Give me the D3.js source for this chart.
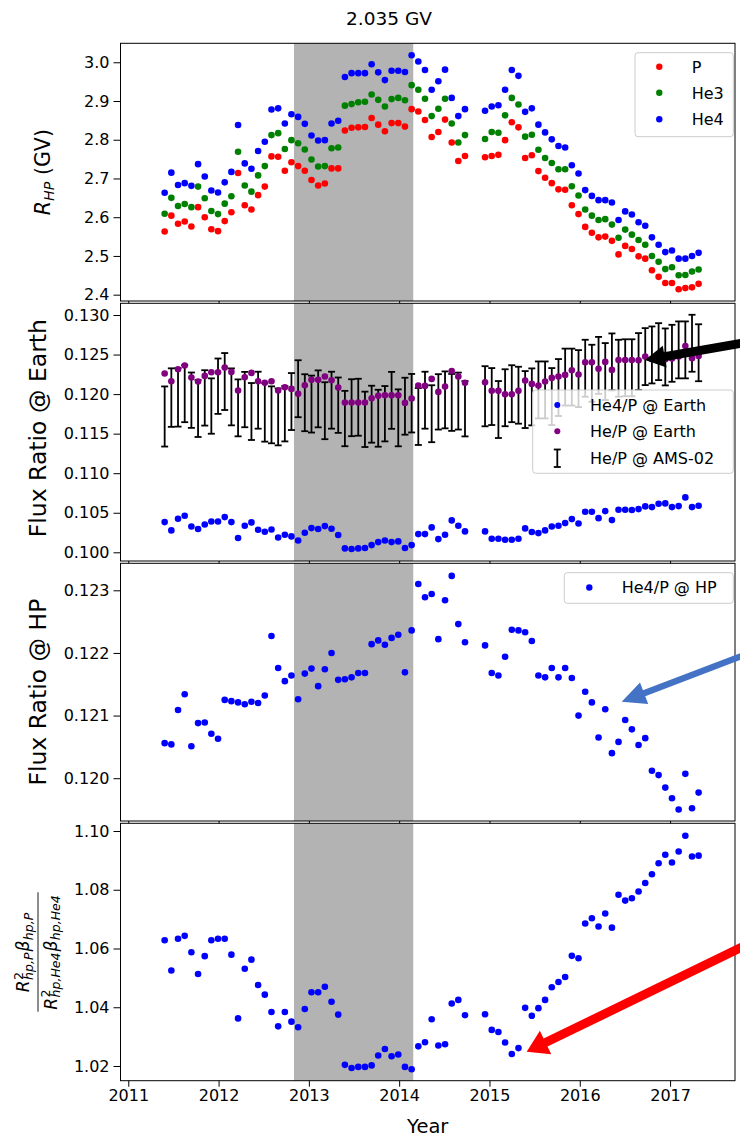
<!DOCTYPE html>
<html><head><meta charset="utf-8">
<script src="https://cdn.jsdelivr.net/npm/d3@7"></script>
<style>body{margin:0;background:#fff} svg{display:block;font-family:'DejaVu Sans',sans-serif}</style>
</head><body><svg id="c" width="740" height="1140"></svg>
<script>
// ---------------- DATA ----------------
const years = [2011.403,2011.477,2011.551,2011.625,2011.699,2011.773,2011.847,2011.920,2011.994,2012.068,
2012.142,2012.216,2012.290,2012.364,2012.438,2012.512,2012.586,2012.660,2012.734,2012.807,
2012.881,2012.955,2013.029,2013.103,2013.177,2013.251,2013.325,2013.399,2013.473,2013.547,
2013.621,2013.695,2013.768,2013.842,2013.916,2013.990,2014.064,2014.138,2014.212,2014.286,
2014.360,2014.434,2014.508,2014.582,2014.655,2014.729,
2014.951,2015.025,2015.099,2015.173,2015.247,2015.321,2015.395,2015.469,2015.542,2015.616,
2015.690,2015.764,2015.838,2015.912,2015.986,2016.060,2016.134,2016.208,2016.282,2016.356,
2016.429,2016.503,2016.577,2016.651,2016.725,2016.799,2016.873,2016.947,2017.021,2017.095,
2017.169,2017.243,2017.316];

const rhpP = [2.563,2.604,2.583,2.589,2.576,2.626,2.600,2.569,2.564,2.590,
2.613,2.714,2.631,2.620,2.657,2.679,2.757,2.756,2.720,2.742,
2.732,2.720,2.696,2.682,2.687,2.726,2.726,2.824,2.831,2.832,
2.833,2.856,2.839,2.822,2.843,2.843,2.834,2.879,2.873,2.851,
2.807,2.820,2.852,2.793,2.745,2.758,
2.755,2.758,2.761,2.799,2.845,2.832,2.753,2.760,2.719,2.702,
2.688,2.672,2.671,2.631,2.608,2.575,2.560,2.548,2.550,2.539,
2.504,2.526,2.518,2.499,2.493,2.463,2.446,2.430,2.430,2.414,
2.417,2.419,2.428];

const rhpHe3 = [2.609,2.650,2.629,2.634,2.626,2.679,2.649,2.616,2.608,2.635,
2.654,2.769,2.682,2.666,2.708,2.732,2.812,2.817,2.776,2.799,
2.791,2.775,2.749,2.731,2.732,2.778,2.780,2.888,2.892,2.897,
2.898,2.917,2.903,2.886,2.905,2.908,2.902,2.941,2.929,2.906,
2.861,2.880,2.906,2.842,2.793,2.812,
2.802,2.820,2.818,2.863,2.908,2.891,2.808,2.813,2.774,2.753,
2.740,2.724,2.724,2.680,2.656,2.620,2.604,2.593,2.595,2.581,
2.547,2.568,2.555,2.541,2.529,2.500,2.485,2.466,2.471,2.450,
2.451,2.460,2.465];

const rhpHe4 = [2.663,2.715,2.683,2.688,2.681,2.737,2.705,2.669,2.664,2.690,
2.717,2.838,2.739,2.725,2.771,2.795,2.878,2.881,2.842,2.866,
2.859,2.841,2.811,2.798,2.799,2.842,2.849,2.962,2.972,2.972,
2.972,2.995,2.974,2.954,2.978,2.978,2.975,3.018,3.002,2.980,
2.929,2.951,2.981,2.908,2.861,2.879,
2.875,2.886,2.889,2.929,2.980,2.965,2.872,2.881,2.839,2.819,
2.801,2.784,2.780,2.734,2.713,2.670,2.655,2.644,2.644,2.638,
2.593,2.615,2.607,2.587,2.578,2.548,2.529,2.510,2.514,2.493,
2.493,2.500,2.508];

const he4pEarth = [0.10382,0.10277,0.10424,0.10462,0.10327,0.10294,0.10352,0.10390,0.10390,0.10445,
0.10382,0.10180,0.10336,0.10378,0.10285,0.10260,0.10289,0.10188,0.10222,0.10201,
0.10150,0.10247,0.10306,0.10294,0.10331,0.10298,0.10218,0.10049,0.10041,0.10049,
0.10054,0.10091,0.10129,0.10150,0.10129,0.10138,0.10054,0.10091,0.10230,0.10230,
0.10315,0.10167,0.10222,0.10403,0.10336,0.10264,
0.10264,0.10172,0.10172,0.10159,0.10159,0.10172,0.10302,0.10256,0.10243,0.10277,
0.10327,0.10336,0.10369,0.10420,0.10365,0.10512,0.10512,0.10432,0.10521,0.10407,
0.10538,0.10538,0.10534,0.10546,0.10580,0.10571,0.10614,0.10618,0.10571,0.10584,
0.10694,0.10571,0.10588];

const hepEarth = [0.12260,0.12163,0.12314,0.12361,0.12209,0.12159,0.12230,0.12276,0.12276,0.12335,
0.12281,0.12045,0.12213,0.12268,0.12163,0.12142,0.12163,0.12045,0.12087,0.12066,
0.12003,0.12112,0.12180,0.12180,0.12222,0.12175,0.12083,0.11893,0.11893,0.11893,
0.11893,0.11948,0.11978,0.11986,0.11986,0.11986,0.11889,0.11944,0.12108,0.12104,
0.12192,0.12028,0.12095,0.12293,0.12222,0.12142,
0.12150,0.12041,0.12041,0.11999,0.11999,0.12041,0.12171,0.12129,0.12108,0.12159,
0.12205,0.12222,0.12243,0.12302,0.12247,0.12403,0.12403,0.12319,0.12407,0.12306,
0.12432,0.12432,0.12432,0.12428,0.12474,0.12441,0.12441,0.12441,0.12449,0.12474,
0.12609,0.12453,0.12483];

const amsHeP = [0.11717,0.11956,0.11959,0.12005,0.11923,0.11818,0.11952,0.11849,0.12100,0.12159,
0.11965,0.11826,0.11931,0.11780,0.11923,0.11769,0.11738,0.11712,0.11752,0.11906,
0.12068,0.11891,0.11874,0.11940,0.11790,0.11923,0.11860,0.11691,0.11828,0.11834,
0.11681,0.11746,0.11695,0.11752,0.11921,0.11700,0.11847,0.11885,0.11717,0.11923,
0.11752,0.11902,0.11927,0.11895,0.11912,0.11815,
0.11973,0.11969,0.11805,0.11954,0.12005,0.11986,0.11931,0.11965,0.12053,0.12053,
0.11969,0.12083,0.12215,0.12215,0.12196,0.12327,0.12264,0.12363,0.12285,0.12407,
0.12327,0.12333,0.12333,0.12411,0.12474,0.12495,0.12537,0.12470,0.12516,0.12559,
0.12559,0.12643,0.12523];

const amsErr = [0.0038,0.0037,0.0037,0.0036,0.0035,0.0036,0.0035,0.0035,0.0035,0.0036,
0.0036,0.0036,0.0035,0.0036,0.0036,0.0037,0.0036,0.0036,0.0035,0.0036,
0.0036,0.0036,0.0036,0.0036,0.0036,0.0036,0.0035,0.0035,0.0036,0.0036,
0.0035,0.0036,0.0036,0.0035,0.0036,0.0036,0.0036,0.0037,0.0036,0.0036,
0.0036,0.0035,0.0036,0.0036,0.0036,0.0035,
0.0038,0.0036,0.0036,0.0036,0.0036,0.0036,0.0036,0.0036,0.0036,0.0036,
0.0036,0.0036,0.0036,0.0036,0.0036,0.0036,0.0036,0.0036,0.0036,0.0036,
0.0036,0.0036,0.0036,0.0036,0.0036,0.0036,0.0036,0.0036,0.0036,0.0036,
0.0036,0.0036,0.0036];

const he4pHP = [0.12056,0.12054,0.12109,0.12134,0.12051,0.12088,0.12089,0.12071,0.12063,0.12125,
0.12123,0.12121,0.12118,0.12122,0.12120,0.12132,0.12227,0.12176,0.12155,0.12164,
0.12126,0.12167,0.12175,0.12147,0.12174,0.12200,0.12157,0.12158,0.12161,0.12168,
0.12168,0.12214,0.12220,0.12213,0.12224,0.12229,0.12169,0.12236,0.12310,0.12289,
0.12294,0.12222,0.12284,0.12323,0.12246,0.12217,
0.12212,0.12168,0.12164,0.12194,0.12237,0.12236,0.12233,0.12219,0.12164,0.12161,
0.12176,0.12161,0.12176,0.12160,0.12100,0.12138,0.12121,0.12065,0.12110,0.12040,
0.12058,0.12093,0.12078,0.12053,0.12064,0.12012,0.12005,0.11985,0.11968,0.11950,
0.12007,0.11952,0.11977];

const rigBetaRatio = [1.0628,1.0525,1.0633,1.0643,1.0587,1.0513,1.0574,1.0628,1.0633,1.0633,
1.0579,1.0362,1.0531,1.0562,1.0476,1.0443,1.0384,1.0335,1.0384,1.0351,
1.0332,1.0394,1.0451,1.0451,1.0470,1.0419,1.0375,1.0204,1.0193,1.0197,
1.0197,1.0202,1.0236,1.0258,1.0233,1.0239,1.0197,1.0189,1.0267,1.0281,
1.0359,1.0270,1.0274,1.0413,1.0425,1.0373,
1.0376,1.0323,1.0316,1.0280,1.0241,1.0261,1.0398,1.0371,1.0397,1.0425,
1.0468,1.0486,1.0503,1.0575,1.0567,1.0685,1.0703,1.0675,1.0719,1.0671,
1.0783,1.0763,1.0771,1.0794,1.0823,1.0853,1.0890,1.0919,1.0893,1.0930,
1.0984,1.0913,1.0916];

const xTicks = [2011,2012,2013,2014,2015,2016,2017];
const yTicksR = [2.4,2.5,2.6,2.7,2.8,2.9,3.0];
const yTicksEarth = [0.100,0.105,0.110,0.115,0.120,0.125,0.130];
const yTicksHP = [0.120,0.121,0.122,0.123];
const yTicksBeta = [1.02,1.04,1.06,1.08,1.10];
const reversalSpan = [2012.835, 2014.156];
const arrowBlack = {tip:[2016.722,0.12431], tail:[2017.993,0.12684]};
const arrowBlue  = {tip:[2016.464,0.121221], tail:[2017.993,0.122061]};
const arrowRed   = {tip:[2015.412,1.02486], tail:[2017.993,1.0634]};

// ---------------- LAYOUT ----------------
const svg = d3.select('#c');
const X0 = 120.5, X1 = 735;
const x = d3.scaleLinear().domain([2010.914, 2017.719]).range([X0, X1]);
const panels = [
  {top:43.3, bottom:301,  dom:[2.3837,3.049],   ticks:yTicksR,     fmt:d3.format('.1f')},
  {top:303.3,bottom:561,  dom:[0.09890,0.13148],ticks:yTicksEarth, fmt:d3.format('.3f')},
  {top:563.3,bottom:821,  dom:[0.119317,0.123431],ticks:yTicksHP,  fmt:d3.format('.3f')},
  {top:823.3,bottom:1080.7,dom:[1.015,1.10262], ticks:yTicksBeta,  fmt:d3.format('.2f')}
];
const R = 3.3;
const COL = {red:'#ff0000', green:'#008000', blue:'#0000ff', purple:'#800080'};

function styleAxis(g){
  g.attr('font-size',null).attr('font-family',null);
  g.select('.domain').remove();
  g.selectAll('line').attr('stroke','#000').attr('stroke-width',1);
  g.selectAll('text').attr('font-size',16).attr('fill','#000');
}

function drawPanel(i, drawData, legend){
  const p = panels[i];
  const y = d3.scaleLinear().domain(p.dom).range([p.bottom, p.top]);
  const g = svg.append('g');
  g.append('rect').attr('x',X0).attr('y',p.top).attr('width',X1-X0).attr('height',p.bottom-p.top).attr('fill','#fff');
  g.append('rect').attr('x',x(reversalSpan[0])).attr('y',p.top)
    .attr('width',x(reversalSpan[1])-x(reversalSpan[0])).attr('height',p.bottom-p.top)
    .attr('fill','#808080').attr('fill-opacity',0.6);
  drawData(g, y);
  if (legend) legend(g);
  const ax = g.append('g').attr('transform',`translate(${X0},0)`)
    .call(d3.axisLeft(y).tickValues(p.ticks).tickFormat(p.fmt).tickSize(7).tickPadding(4));
  styleAxis(ax);
  const bx = g.append('g').attr('transform',`translate(0,${p.bottom})`)
    .call(d3.axisBottom(x).tickValues(xTicks).tickSize(6).tickPadding(3)
      .tickFormat(i===3 ? d3.format('d') : ''));
  styleAxis(bx);
  g.append('rect').attr('x',X0).attr('y',p.top).attr('width',X1-X0).attr('height',p.bottom-p.top)
    .attr('fill','none').attr('stroke','#000').attr('stroke-width',1);
  return y;
}

function dots(g, y, vals, color){
  g.append('g').selectAll('circle').data(vals).join('circle')
    .attr('cx',(d,k)=>x(years[k])).attr('cy',d=>y(d)).attr('r',R).attr('fill',color);
}

function legendBox(g, bx, by, bw, bh){
  g.append('rect').attr('x',bx).attr('y',by).attr('width',bw).attr('height',bh).attr('rx',3)
    .attr('fill','#fff').attr('fill-opacity',0.8).attr('stroke','#cccccc').attr('stroke-width',1);
}
function legendText(g, tx, cy, txt){
  g.append('text').attr('x',tx).attr('y',cy+5.8).attr('font-size',16).attr('fill','#000').text(txt);
}

// Panel 1
drawPanel(0, (g,y)=>{
  dots(g,y,rhpP,COL.red);
  dots(g,y,rhpHe3,COL.green);
  dots(g,y,rhpHe4,COL.blue);
}, g=>{
  legendBox(g,635,52.7,98.3,84);
  [['P',COL.red,66.7],['He3',COL.green,92.7],['He4',COL.blue,119.3]].forEach(([t,c,cy])=>{
    g.append('circle').attr('cx',659.3).attr('cy',cy).attr('r',3.2).attr('fill',c);
    legendText(g,691.7,cy,t);
  });
});

// Panel 2
drawPanel(1, (g,y)=>{
  const eb = g.append('g').attr('stroke','#000').attr('stroke-width',1.8);
  amsHeP.forEach((v,k)=>{
    const cx = x(years[k]), y1 = y(v+amsErr[k]), y2 = y(v-amsErr[k]);
    eb.append('line').attr('x1',cx).attr('x2',cx).attr('y1',y1).attr('y2',y2);
    eb.append('line').attr('x1',cx-3.5).attr('x2',cx+3.5).attr('y1',y1).attr('y2',y1);
    eb.append('line').attr('x1',cx-3.5).attr('x2',cx+3.5).attr('y1',y2).attr('y2',y2);
  });
  dots(g,y,he4pEarth,COL.blue);
  dots(g,y,hepEarth,COL.purple);
}, g=>{
  legendBox(g,532.7,390,200.6,83.3);
  g.append('circle').attr('cx',557.3).attr('cy',405).attr('r',3).attr('fill',COL.blue);
  legendText(g,590,405,'He4/P @ Earth');
  g.append('circle').attr('cx',557.3).attr('cy',431.3).attr('r',3).attr('fill',COL.purple);
  legendText(g,590,431.3,'He/P @ Earth');
  const lg = g.append('g').attr('stroke','#000').attr('stroke-width',1.8);
  lg.append('line').attr('x1',557.3).attr('x2',557.3).attr('y1',449.5).attr('y2',467);
  lg.append('line').attr('x1',553.8).attr('x2',560.8).attr('y1',449.5).attr('y2',449.5);
  lg.append('line').attr('x1',553.8).attr('x2',560.8).attr('y1',467).attr('y2',467);
  legendText(g,590,458.3,'He/P @ AMS-02');
});

// Panel 3
drawPanel(2, (g,y)=>{ dots(g,y,he4pHP,COL.blue); }, g=>{
  legendBox(g,564.3,572.7,169,30.6);
  g.append('circle').attr('cx',589.3).attr('cy',587.5).attr('r',3.2).attr('fill',COL.blue);
  legendText(g,621.7,587.5,'He4/P @ HP');
});

// Panel 4
const y4 = drawPanel(3, (g,y)=>{ dots(g,y,rigBetaRatio,COL.blue); }, null);

// --------------- ARROWS ---------------
function arrow(a, y, color, w, hl, hw){
  const T = [x(a.tip[0]), y(a.tip[1])], S = [x(a.tail[0]), y(a.tail[1])];
  const dx = S[0]-T[0], dy = S[1]-T[1], L = Math.hypot(dx,dy);
  const u = [dx/L, dy/L], n = [-u[1], u[0]];
  const B = [T[0]+u[0]*hl, T[1]+u[1]*hl];
  const pt = (P,s)=>[P[0]+n[0]*s, P[1]+n[1]*s];
  const poly = [T, pt(B,hw/2), pt(B,w/2), pt(S,w/2), pt(S,-w/2), pt(B,-w/2), pt(B,-hw/2)];
  svg.append('polygon').attr('points',poly.map(p=>p.join(',')).join(' ')).attr('fill',color);
}
const yP2 = d3.scaleLinear().domain(panels[1].dom).range([panels[1].bottom,panels[1].top]);
const yP3 = d3.scaleLinear().domain(panels[2].dom).range([panels[2].bottom,panels[2].top]);
arrow(arrowBlack, yP2, '#000000', 9, 20, 22);
arrow(arrowBlue, yP3, '#4472c4', 6.5, 24, 23);
arrow(arrowRed, y4, '#ff0000', 9, 21, 26);

// --------------- LABELS ---------------
svg.append('text').attr('x',389).attr('y',25).attr('text-anchor','middle').attr('font-size',18.5).text('2.035 GV');
svg.append('text').attr('x',(X0+X1)/2).attr('y',1133).attr('text-anchor','middle').attr('font-size',19.5).text('Year');

function yLabel(cx, cy, size, build){
  const t = svg.append('text').attr('transform',`translate(${cx},${cy}) rotate(-90)`)
    .attr('text-anchor','middle').attr('font-size',size);
  build(t);
}
yLabel(50, (panels[0].top+panels[0].bottom)/2, 20.5, t=>{
  t.append('tspan').attr('font-style','italic').text('R');
  t.append('tspan').attr('font-style','italic').attr('font-size',14.3).attr('dy',4).text('HP');
  t.append('tspan').attr('dy',-4).text(' (GV)');
});
yLabel(46, (panels[1].top+panels[1].bottom)/2 - 4, 23.5, t=>t.text('Flux Ratio @ Earth'));
yLabel(46, (panels[2].top+panels[2].bottom)/2, 23.5, t=>t.text('Flux Ratio @ HP'));

// fraction label for panel 4
(function(){
  const size = 17, sub = 12.5, cx = 37, cy = (panels[3].top+panels[3].bottom)/2;
  const G = svg.append('g').attr('transform',`translate(${cx},${cy}) rotate(-90)`);
  function row(parts, base){
    const r = G.append('g');
    let xp = 0;
    parts.forEach(p=>{
      const b = r.append('text').attr('x',xp).attr('y',base).attr('font-size',size).attr('font-style','italic').text(p.b);
      xp += b.node().getComputedTextLength();
      let w = 0;
      if (p.sup){ const s = r.append('text').attr('x',xp+0.5).attr('y',base-size*0.36).attr('font-size',sub).text(p.sup); w = Math.max(w,s.node().getComputedTextLength()); }
      if (p.sub){ const s = r.append('text').attr('x',xp+0.5).attr('y',base+size*0.22).attr('font-size',sub).attr('font-style','italic').text(p.sub); w = Math.max(w,s.node().getComputedTextLength()); }
      xp += w + 1.5;
    });
    r.attr('transform',`translate(${-xp/2},0)`);
    return xp;
  }
  const w1 = row([{b:'R',sup:'2',sub:'hp,P'},{b:'β',sub:'hp,P'}], -8);
  const w2 = row([{b:'R',sup:'2',sub:'hp,He4'},{b:'β',sub:'hp,He4'}], 19.5);
  const lw = Math.max(w1,w2)+4;
  G.append('line').attr('x1',-lw/2).attr('x2',lw/2).attr('y1',1).attr('y2',1).attr('stroke','#000').attr('stroke-width',0.9);
})();
</script>
</body></html>
